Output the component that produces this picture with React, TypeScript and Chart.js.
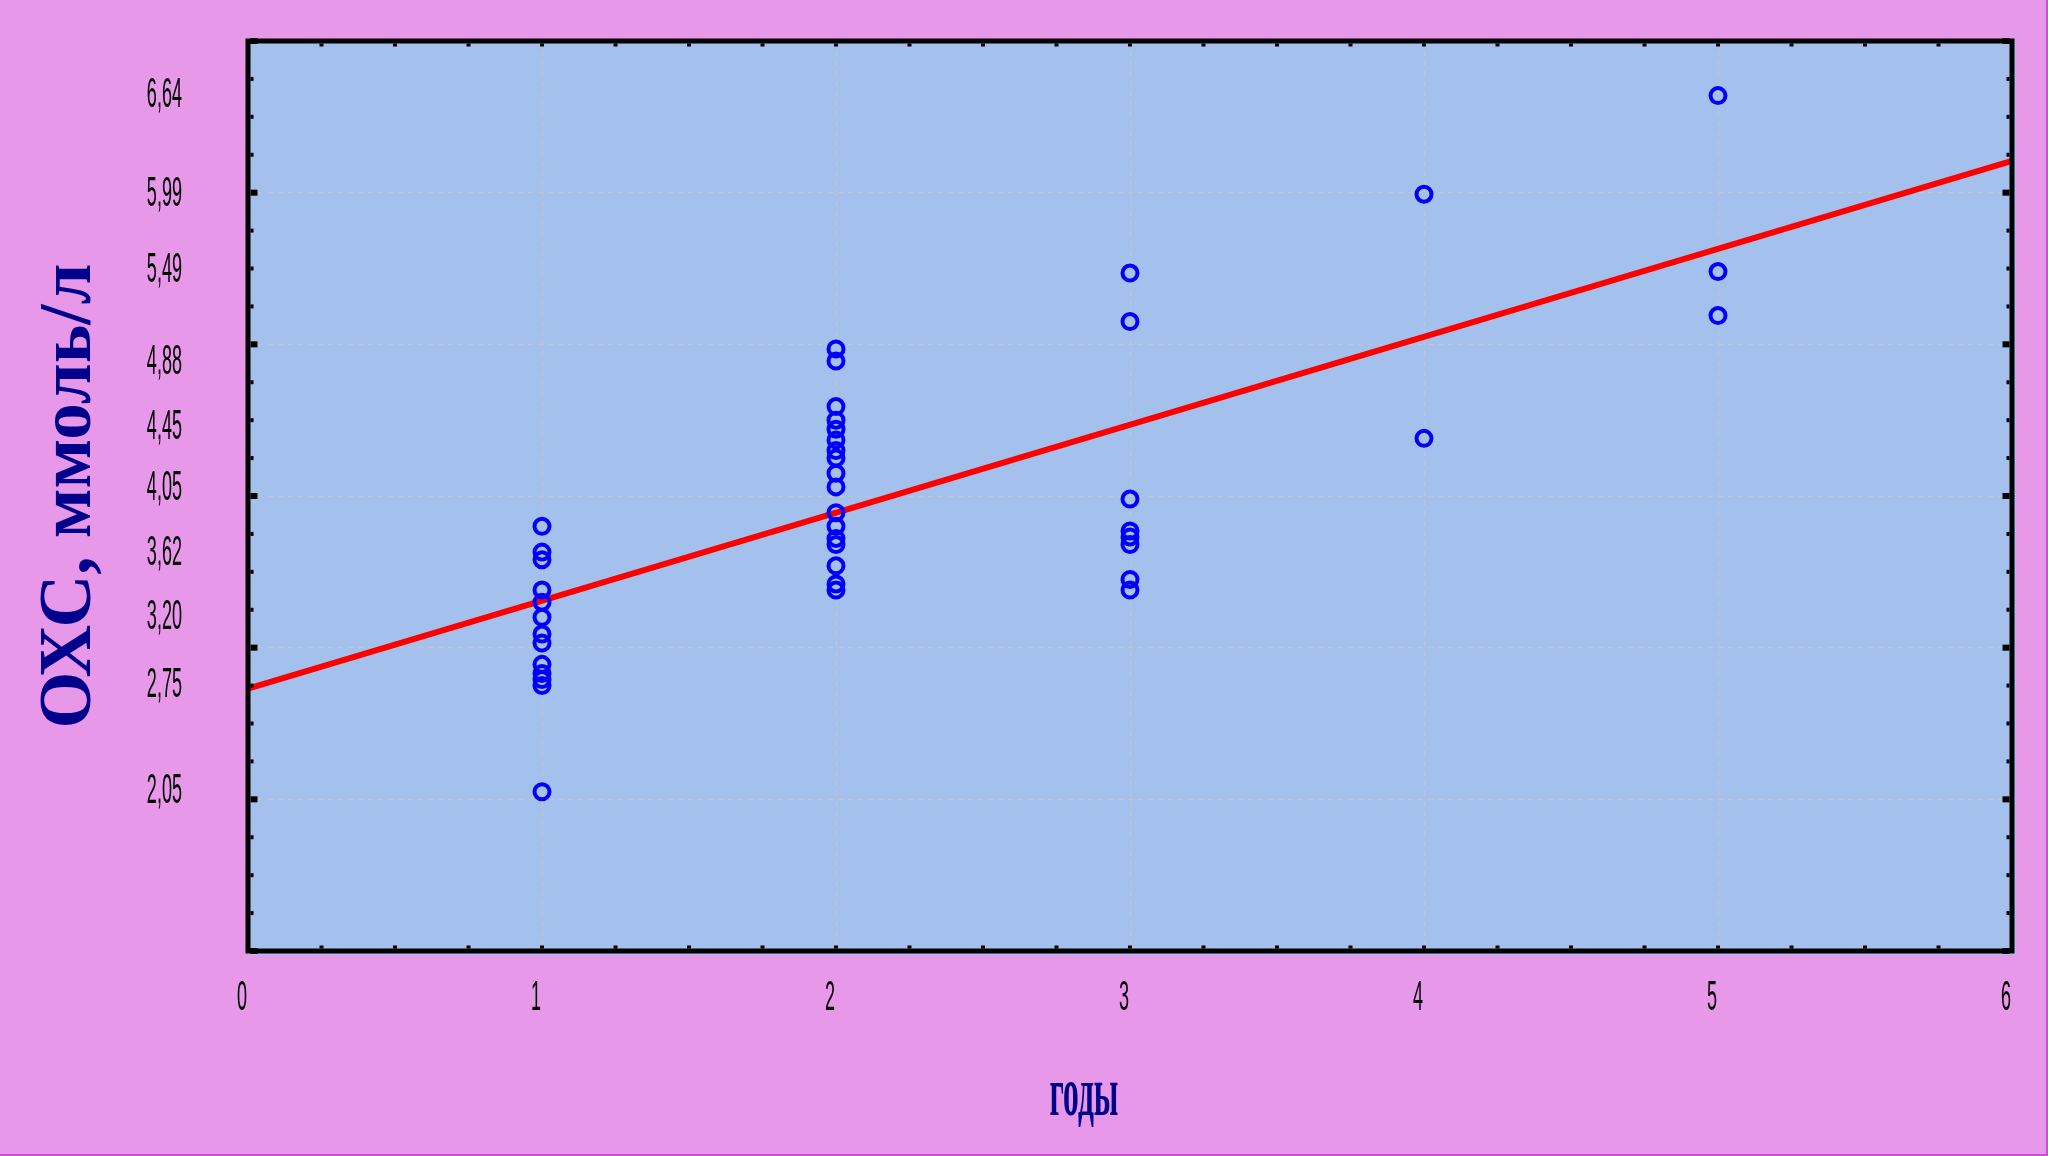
import React, { useEffect, useRef } from "react";
import { Chart, registerables } from "chart.js";

Chart.register(...registerables);

// ---- data ----
const years = [1, 2, 3, 4, 5];
const ohsYear1 = [3.8, 3.63, 3.58, 3.38, 3.3, 3.2, 3.09, 3.03, 2.89, 2.83, 2.79, 2.75, 2.05];
const ohsYear2 = [4.97, 4.89, 4.59, 4.5, 4.44, 4.37, 4.3, 4.25, 4.15, 4.06, 3.89, 3.8, 3.72, 3.68, 3.54, 3.42, 3.38];
const ohsYear3 = [5.47, 5.15, 3.98, 3.77, 3.73, 3.68, 3.45, 3.38];
const ohsYear4 = [5.99, 4.38];
const ohsYear5 = [6.64, 5.48, 5.19];
const ohsByYear = [ohsYear1, ohsYear2, ohsYear3, ohsYear4, ohsYear5];

const fitX = [0, 6];
const fitY = [2.73, 6.21];

const xTickLabels = [0, 1, 2, 3, 4, 5, 6];
const yTickLabels = [2.05, 2.75, 3.2, 3.62, 4.05, 4.45, 4.88, 5.49, 5.99, 6.64];

const yTitle = "ОХС, ммоль/л";
const xTitle = "годы";

// ---- styles ----
const PAGE_BG = "#E898E8";
const PLOT_BG = "#A3C1EC";
const NAVY = "#00008C";

function squish(ctx: CanvasRenderingContext2D, text: string, x: number, y: number, sx: number, align: CanvasTextAlign) {
  ctx.save();
  ctx.translate(x, y);
  ctx.scale(sx, 1);
  ctx.textAlign = align;
  ctx.fillText(text, 0, 0);
  ctx.restore();
}

const decor = {
  id: "decor",
  beforeDraw(chart: any) {
    const { ctx, chartArea: a, width, height } = chart;
    ctx.save();
    ctx.fillStyle = PAGE_BG;
    ctx.fillRect(0, 0, width, height);
    ctx.fillStyle = PLOT_BG;
    ctx.fillRect(a.left, a.top, a.right - a.left + 4, a.bottom - a.top + 4);
    ctx.fillStyle = "#D448D4";
    ctx.fillRect(width - 2, 0, 2, height);
    ctx.fillRect(0, height - 2, width, 2);
    ctx.restore();
  },
  afterDraw(chart: any) {
    const { ctx, chartArea: a } = chart;
    const xs = chart.scales.x;
    const ys = chart.scales.y;
    ctx.save();
    // frame
    ctx.strokeStyle = "#000";
    ctx.lineWidth = 5;
    ctx.strokeRect(a.left, a.top, a.right - a.left, a.bottom - a.top);
    ctx.fillStyle = "#000";
    const bw = 2.5;
    // y ticks (left & right)
    for (let v = ys.min; v <= ys.max + 1e-9; v += 0.25) {
      const p = ys.getPixelForValue(v);
      const major = Math.abs(v - Math.round(v)) < 1e-9;
      const len = major ? 7 : 3;
      const th = major ? 6 : 4;
      ctx.fillRect(a.left + bw, p - th / 2, len, th);
      ctx.fillRect(a.right - bw - len, p - th / 2, len, th);
    }
    // x ticks (bottom & top)
    for (let v = xs.min; v <= xs.max + 1e-9; v += 0.25) {
      const p = xs.getPixelForValue(v);
      ctx.fillRect(p - 2, a.bottom - bw - 3, 4, 3);
      ctx.fillRect(p - 2, a.top + bw, 4, 3);
    }
    // tick labels
    ctx.fillStyle = "#000";
    ctx.font = "42px 'Liberation Sans', Arial, sans-serif";
    ctx.textBaseline = "middle";
    for (const v of yTickLabels) {
      squish(ctx, v.toFixed(2).replace(".", ","), a.left - 66, ys.getPixelForValue(v), 0.43, "right");
    }
    for (const v of xTickLabels) {
      squish(ctx, String(v), xs.getPixelForValue(v) - 6, a.bottom + 47, 0.43, "center");
    }
    // titles
    ctx.fillStyle = NAVY;
    ctx.textBaseline = "alphabetic";
    ctx.font = "bold 73px 'Liberation Serif', 'Times New Roman', serif";
    ctx.save();
    ctx.translate(90, (a.top + a.bottom) / 2);
    ctx.rotate(-Math.PI / 2);
    ctx.textAlign = "center";
    ctx.fillText(yTitle, 0, 0);
    ctx.restore();
    ctx.font = "bold 70px 'Liberation Serif', 'Times New Roman', serif";
    squish(ctx, xTitle, (a.left + a.right) / 2 - 46, a.bottom + 164, 0.45, "center");
    ctx.restore();
  },
};

export default function App() {
  const ref = useRef<HTMLCanvasElement | null>(null);
  useEffect(() => {
    document.body.style.margin = "0";
    const canvas = ref.current!;
    const points: { x: number; y: number }[] = [];
    years.forEach((yr, i) => ohsByYear[i].forEach((v) => points.push({ x: yr, y: v })));
    const chart = new Chart(canvas, {
      type: "scatter",
      data: {
        datasets: [
          {
            type: "scatter",
            data: points,
            order: 0,
            pointStyle: "circle",
            pointRadius: 7.5,
            pointBorderWidth: 4,
            borderColor: "#0000FF",
            backgroundColor: "rgba(0,0,0,0)",
            pointHoverRadius: 7.5,
          } as any,
          {
            type: "line",
            data: fitX.map((x, i) => ({ x, y: fitY[i] })),
            order: 1,
            borderColor: "#FF0000",
            borderWidth: 6,
            pointRadius: 0,
            fill: false,
          } as any,
        ],
      },
      options: {
        responsive: false,
        animation: false,
        layout: { padding: { left: 248, right: 36, top: 41, bottom: 205 } },
        plugins: { legend: { display: false }, tooltip: { enabled: false } },
        scales: {
          x: {
            type: "linear",
            min: 0,
            max: 6,
            ticks: { display: false, stepSize: 1 },
            grid: { color: "rgba(200,196,184,0.95)", lineWidth: 1, drawTicks: false },
            border: { display: false, dash: [5, 5] },
          },
          y: {
            type: "linear",
            min: 1,
            max: 7,
            ticks: { display: false, stepSize: 1 },
            grid: { color: "rgba(200,196,184,0.95)", lineWidth: 1, drawTicks: false },
            border: { display: false, dash: [5, 5] },
          },
        },
      },
      plugins: [decor],
    });
    return () => chart.destroy();
  }, []);
  return <canvas ref={ref} width={2048} height={1156} style={{ display: "block" }} />;
}
